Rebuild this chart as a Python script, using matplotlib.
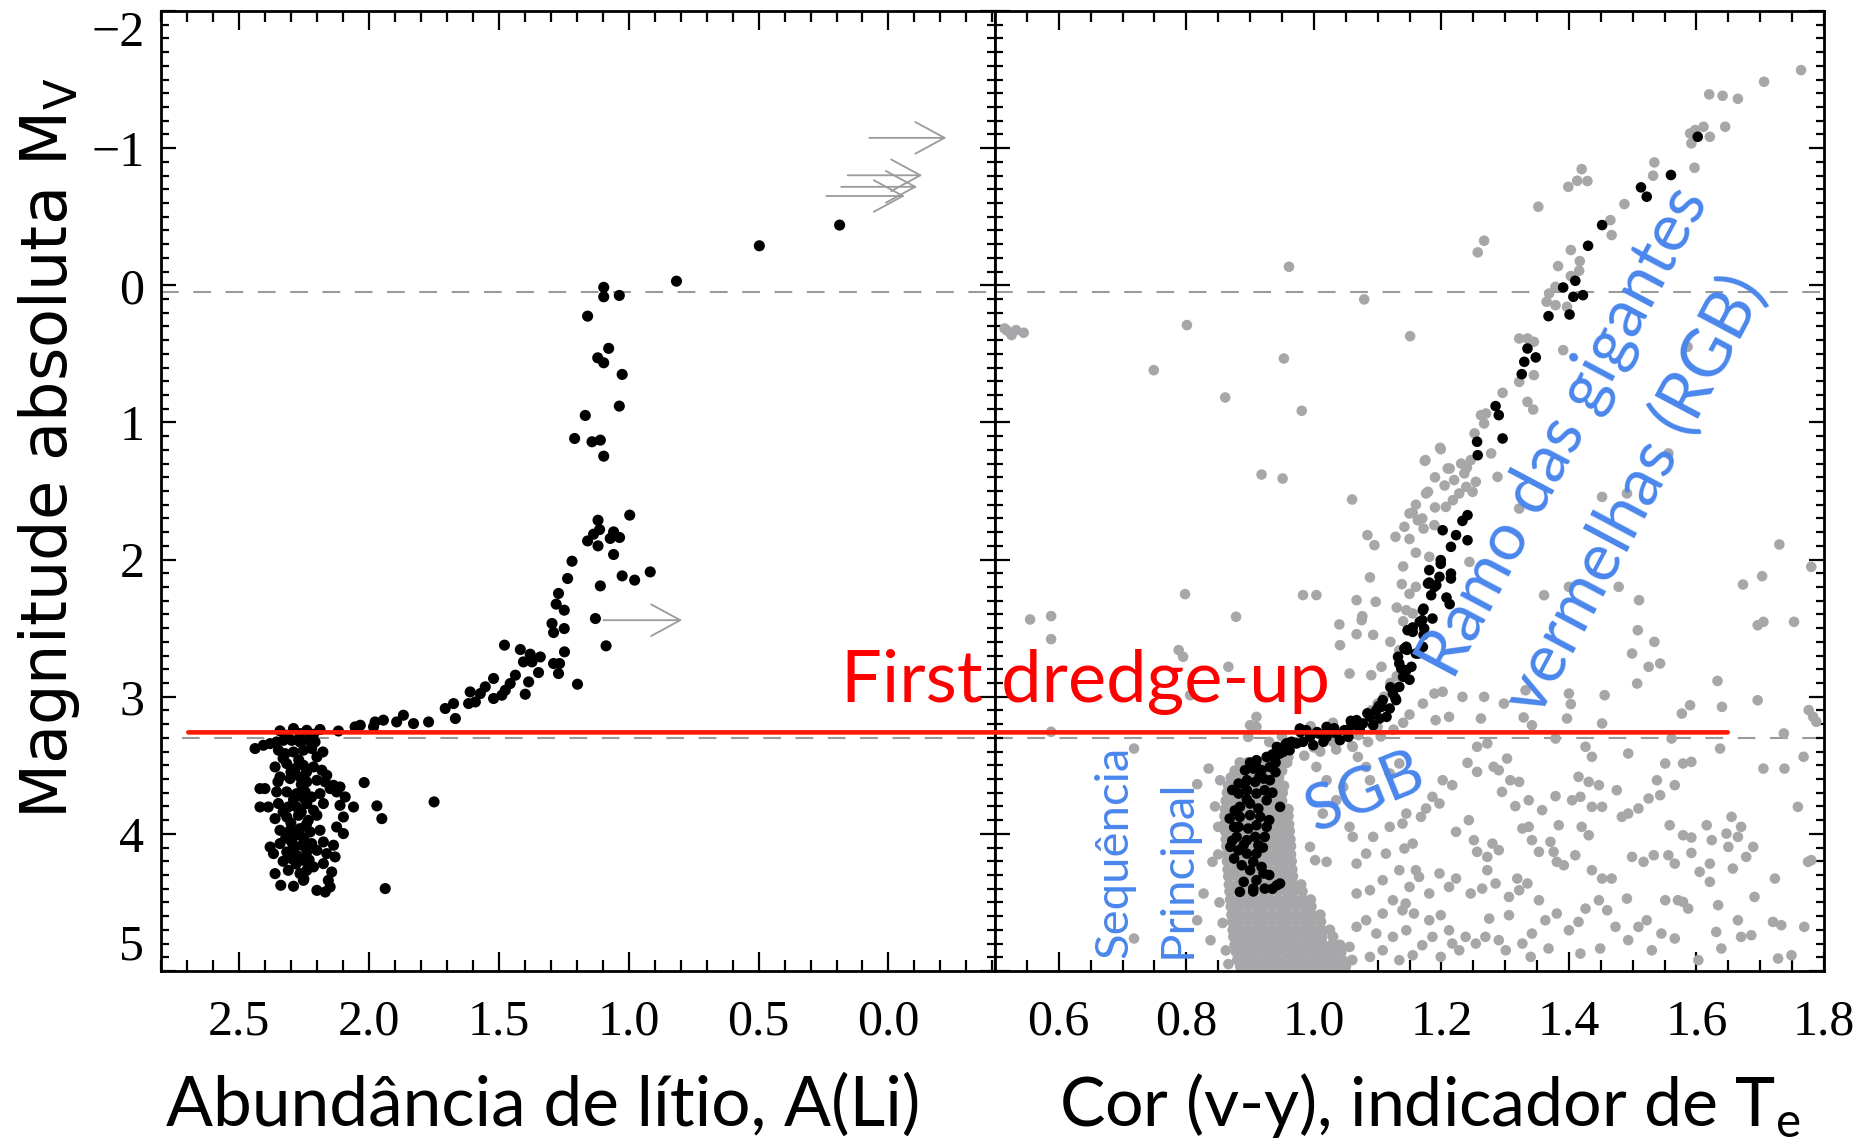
import numpy as np
import matplotlib.pyplot as plt
from matplotlib.patches import ConnectionPatch
from matplotlib.ticker import MultipleLocator

plt.rcParams['font.family'] = ['Liberation Serif', 'DejaVu Serif']
plt.rcParams['axes.linewidth'] = 2.0

# ---------------- left panel: lithium abundance A(Li) vs Mv ----------------
li_giants = [
    (0.816, -0.03), (0.497, -0.288), (0.188, -0.439),
    (1.096, 0.015), (1.096, 0.084), (1.036, 0.074), (1.158, 0.225), (1.077, 0.46),
    (1.119, 0.529), (1.096, 0.565), (1.025, 0.650), (1.036, 0.881), (1.167, 0.949),
    (1.208, 1.117), (1.141, 1.141), (1.109, 1.129), (1.096, 1.246),
    (0.996, 1.676), (1.118, 1.713), (1.112, 1.781), (1.135, 1.815), (1.058, 1.798),
    (1.158, 1.864), (1.071, 1.846), (1.035, 1.839), (1.118, 1.900), (1.058, 1.963),
    (1.218, 2.012), (1.235, 2.138), (1.025, 2.119), (0.977, 2.150), (0.917, 2.090),
    (1.109, 2.192), (1.270, 2.247), (1.279, 2.325), (1.248, 2.369), (1.128, 2.430),
    (1.295, 2.466), (1.289, 2.532), (1.248, 2.503), (1.087, 2.629), (1.247, 2.673),
    (1.478, 2.624), (1.417, 2.656), (1.379, 2.690), (1.340, 2.710), (1.405, 2.746),
    (1.372, 2.746), (1.289, 2.758), (1.266, 2.758), (1.270, 2.831), (1.347, 2.824),
    (1.436, 2.843), (1.385, 2.892), (1.197, 2.909), (1.456, 2.904), (1.475, 2.953),
    (1.398, 2.982), (1.488, 2.989),
]
li_subgiants = [
    (1.520, 2.867), (1.552, 2.928), (1.520, 3.013), (1.571, 2.977), (1.610, 2.965),
    (1.590, 3.038), (1.616, 3.050), (1.674, 3.050), (1.706, 3.086), (1.667, 3.159),
    (1.770, 3.184), (1.828, 3.196), (1.867, 3.135), (1.893, 3.184), (1.944, 3.171),
    (1.976, 3.184), (1.982, 3.220), (2.033, 3.208), (2.053, 3.220), (2.117, 3.250),
    (2.188, 3.239),
]
li_dwarfs = [
    (2.342, 3.249), (2.290, 3.232), (2.239, 3.245), (2.265, 3.269), (2.316, 3.281), (2.213, 3.274),
    (2.438, 3.378), (2.406, 3.354), (2.380, 3.342), (2.355, 3.330), (2.329, 3.318), (2.297, 3.318),
    (2.265, 3.330), (2.233, 3.318), (2.207, 3.330), (2.177, 3.403), (2.348, 3.390), (2.322, 3.415),
    (2.290, 3.403), (2.252, 3.390), (2.220, 3.378), (2.200, 3.439),
    (2.361, 3.512), (2.316, 3.488), (2.284, 3.524), (2.252, 3.500), (2.213, 3.512), (2.181, 3.536),
    (2.162, 3.573),
    (2.342, 3.585), (2.303, 3.597), (2.265, 3.585), (2.239, 3.621), (2.200, 3.609), (2.168, 3.621),
    (2.136, 3.646), (2.111, 3.658), (2.018, 3.626),
    (2.419, 3.670), (2.400, 3.670), (2.355, 3.694), (2.316, 3.694), (2.278, 3.707), (2.245, 3.694),
    (2.220, 3.731), (2.188, 3.707), (2.149, 3.670), (2.124, 3.694), (2.091, 3.731),
    (2.419, 3.804), (2.387, 3.804), (2.348, 3.779), (2.310, 3.804), (2.278, 3.804), (2.239, 3.779),
    (2.213, 3.828), (2.175, 3.779), (2.111, 3.792), (2.059, 3.804), (1.969, 3.796), (1.749, 3.767),
    (2.361, 3.889), (2.316, 3.877), (2.271, 3.865), (2.233, 3.901), (2.200, 3.865), (2.098, 3.877),
    (1.950, 3.889),
    (2.342, 3.974), (2.303, 3.974), (2.265, 3.962), (2.226, 3.986), (2.188, 3.974), (2.124, 3.950),
    (2.098, 3.998),
    (2.380, 4.096), (2.342, 4.071), (2.297, 4.059), (2.258, 4.083), (2.220, 4.071), (2.175, 4.059),
    (2.136, 4.083),
    (2.367, 4.144), (2.316, 4.132), (2.278, 4.156), (2.239, 4.132), (2.200, 4.120), (2.162, 4.144),
    (2.130, 4.168),
    (2.297, 4.181), (2.252, 4.193), (2.213, 4.241), (2.175, 4.217),
    (2.361, 4.290), (2.310, 4.266), (2.265, 4.290), (2.239, 4.266), (2.143, 4.278), (2.156, 4.339),
    (2.339, 4.375), (2.290, 4.382), (2.252, 4.339), (2.200, 4.412), (2.168, 4.424), (2.149, 4.387),
    (1.937, 4.399),
    (2.33, 3.45), (2.27, 3.46), (2.24, 3.55), (2.30, 3.55), (2.35, 3.62), (2.26, 3.64),
    (2.29, 3.75), (2.25, 3.74), (2.33, 3.84), (2.26, 3.84), (2.30, 3.92), (2.24, 3.93),
    (2.28, 4.01), (2.32, 4.03), (2.25, 4.03), (2.29, 4.10), (2.23, 4.19), (2.28, 4.22),
    (2.33, 4.20), (2.25, 4.33),
]
# lower limits on A(Li): (from, to, Mv)
li_limits = [
    (1.097, 0.794, 2.442),
    (0.074, -0.223, -1.075),
    (0.157, -0.130, -0.802),
    (0.182, -0.110, -0.718),
    (0.239, -0.063, -0.651),
]

# ---------------- right panel: colour (v-y) vs Mv ----------------
cmd_black_ms = [
    (0.884, 4.423), (0.905, 4.399), (0.923, 4.399), (0.942, 4.375), (0.947, 4.362), (0.890, 4.350),
    (0.910, 4.338), (0.887, 4.229), (0.900, 4.265), (0.918, 4.241), (0.921, 4.289), (0.905, 4.204),
    (0.869, 4.095), (0.882, 4.120), (0.895, 4.144), (0.910, 4.144), (0.913, 4.083),
    (0.879, 4.022), (0.895, 4.046), (0.908, 4.022), (0.923, 4.022),
    (0.882, 3.949), (0.897, 3.961), (0.910, 3.937), (0.926, 3.949),
    (0.868, 3.888), (0.884, 3.876), (0.900, 3.864), (0.916, 3.876), (0.947, 3.803),
    (0.884, 3.803), (0.900, 3.779), (0.913, 3.815), (0.926, 3.755),
    (0.882, 3.706), (0.895, 3.682), (0.910, 3.706), (0.923, 3.682),
    (0.882, 3.633), (0.895, 3.609), (0.908, 3.621), (0.921, 3.597), (0.931, 3.609),
    (0.892, 3.536), (0.905, 3.524), (0.918, 3.536), (0.931, 3.512),
    (0.910, 3.463), (0.926, 3.439), (0.939, 3.451), (0.947, 3.414),
    (0.875, 3.95), (0.872, 4.05), (0.89, 4.08), (0.92, 4.10), (0.93, 3.90), (0.935, 3.70),
    (0.94, 3.55), (0.93, 4.30), (0.875, 4.18), (0.895, 3.75), (0.915, 3.58), (0.90, 3.48),
    (0.94, 3.48), (0.876, 3.83), (0.872, 3.68), (0.905, 4.42), (0.935, 4.40),
]
cmd_black_sgb = [
    (0.942, 3.366), (0.955, 3.353), (0.962, 3.390), (0.973, 3.341), (0.983, 3.329), (0.978, 3.232),
    (0.994, 3.293), (1.007, 3.268), (1.020, 3.293), (1.035, 3.268), (1.048, 3.244), (1.059, 3.208),
    (1.067, 3.171), (1.077, 3.195), (1.088, 3.147), (1.098, 3.098), (1.114, 3.147), (1.108, 3.025),
    (1.124, 2.977), (1.134, 2.928), (1.140, 2.855), (1.132, 2.709), (1.145, 2.636), (1.147, 2.515),
    (0.952, 3.402), (0.999, 3.353), (1.015, 3.329), (1.041, 3.317), (1.054, 3.293), (1.072, 3.232),
    (1.093, 3.208), (1.103, 3.159), (1.119, 3.086), (1.106, 3.074), (1.129, 3.025), (0.988, 3.244),
    (0.965, 3.329), (1.020, 3.220),
    (1.199, 2.031), (1.181, 2.168), (1.208, 2.277), (1.172, 2.358), (1.155, 2.495), (1.172, 2.549),
    (1.146, 2.658), (1.164, 2.685), (1.137, 2.794), (1.150, 2.876), (1.120, 2.931), (1.128, 3.012),
    (1.102, 3.067), (1.084, 3.121), (1.058, 3.176), (1.032, 3.230), (1.005, 3.258), (0.979, 3.258),
    (0.957, 3.340), (0.935, 3.421), (0.909, 3.503), (0.891, 3.639),
]
cmd_black_rgb = [
    (1.602, -1.083), (1.560, -0.804), (1.513, -0.714), (1.522, -0.646), (1.452, -0.439),
    (1.430, -0.288), (1.391, 0.016), (1.410, -0.033), (1.407, 0.084), (1.422, 0.072),
    (1.368, 0.225), (1.401, 0.213), (1.335, 0.461), (1.330, 0.558), (1.348, 0.526),
    (1.326, 0.648), (1.285, 0.881), (1.290, 0.947),
    (1.256, 1.141), (1.296, 1.117), (1.257, 1.239), (1.241, 1.676), (1.233, 1.718),
    (1.202, 1.786), (1.223, 1.822), (1.241, 1.859), (1.215, 1.907), (1.199, 2.004),
    (1.181, 2.077), (1.215, 2.102), (1.197, 2.126), (1.179, 2.175), (1.189, 2.199),
    (1.215, 2.138), (1.184, 2.260), (1.213, 2.325), (1.171, 2.369), (1.186, 2.430),
    (1.166, 2.454), (1.155, 2.527), (1.173, 2.503), (1.171, 2.637), (1.160, 2.685),
    (1.153, 2.782), (1.142, 2.649), (1.134, 2.758), (1.145, 2.807), (1.192, 2.187),
    (1.170, 2.442),
]
cmd_gray_field = [
    # upper part / giants
    (0.961, -0.135), (1.079, 0.103), (0.801, 0.290), (0.515, 0.315), (0.526, 0.363),
    (0.533, 0.327), (0.545, 0.346), (0.519, 0.330), (1.151, 0.371), (0.749, 0.619),
    (0.953, 0.534), (0.861, 0.818), (0.981, 0.915), (0.918, 1.380), (0.951, 1.409),
    (1.060, 1.562), (1.084, 1.822), (1.095, 1.895), (1.128, 1.834), (1.142, 1.761),
    (1.150, 1.664),
    (1.764, -1.569), (1.706, -1.484), (1.620, -1.392), (1.641, -1.382), (1.665, -1.360),
    (1.611, -1.156), (1.645, -1.156), (1.590, -1.107), (1.598, -1.132), (1.621, -1.083),
    (1.592, -1.035), (1.597, -0.857), (1.534, -0.896), (1.532, -0.799), (1.420, -0.847),
    (1.413, -0.762), (1.429, -0.760), (1.399, -0.718), (1.487, -0.592), (1.352, -0.573),
    (1.465, -0.475), (1.467, -0.366), (1.267, -0.325), (1.257, -0.240), (1.403, -0.257),
    (1.417, -0.176), (1.383, -0.140), (1.416, -0.106), (1.403, -0.067), (1.379, 0.011),
    (1.369, 0.060), (1.365, 0.120), (1.379, 0.145), (1.397, 0.157), (1.322, 0.388),
    (1.335, 0.388), (1.345, 0.412), (1.391, 0.473), (1.586, 0.449), (1.345, 0.655),
    (1.322, 0.704), (1.296, 0.784), (1.335, 0.850), (1.344, 0.906), (1.270, 0.935),
    (1.262, 0.947),
    (1.252, 1.080), (1.267, 1.008), (1.198, 1.185), (1.175, 1.275), (1.213, 1.336),
    (1.231, 1.300), (1.236, 1.372), (1.246, 1.275), (1.288, 1.397), (1.278, 1.226),
    (1.176, 1.518), (1.207, 1.616), (1.218, 1.567), (1.228, 1.518), (1.239, 1.470),
    (1.249, 1.506), (1.254, 1.433), (1.322, 1.628), (1.172, 1.774), (1.244, 2.017),
    (1.181, 1.980), (1.160, 2.199), (1.452, 1.543), (1.491, 1.518), (1.556, 1.226),
    (1.361, 2.260), (1.400, 2.199), (1.478, 2.199), (1.510, 2.296), (1.508, 2.515),
    (1.534, 2.600), (1.499, 2.685), (1.525, 2.782), (1.543, 2.758), (1.507, 2.904),
    (1.456, 2.989), (1.633, 2.885), (1.696, 3.026), (1.640, 3.074), (1.577, 3.123),
    (1.590, 3.062), (1.730, 1.890), (1.673, 2.182), (1.703, 2.121), (1.696, 2.479),
    (1.705, 2.454), (1.753, 2.454), (1.780, 2.053), (1.332, 2.953), (1.400, 2.977),
    (1.233, 3.001), (1.267, 3.001), (1.298, 3.050), (1.189, 2.977), (1.171, 3.050),
    (1.212, 3.147),
    (1.199, 1.195), (1.174, 1.280), (1.179, 1.506), (1.210, 1.336), (1.155, 1.659),
    (1.163, 1.713), (1.189, 1.749), (1.138, 2.179), (1.145, 2.369), (1.155, 2.393),
    (1.134, 2.661),
    (1.19, 1.40), (1.205, 1.46), (1.22, 1.42), (1.24, 1.33), (1.16, 1.60), (1.17, 1.70),
    (1.19, 1.62), (1.15, 1.85), (1.16, 1.95), (1.14, 2.05), (1.15, 2.25), (1.13, 2.35),
    (1.14, 2.45), (1.12, 2.60), (1.13, 2.85), (1.12, 2.90), (1.11, 3.00), (1.10, 3.05),
    (1.09, 3.10), (1.076, 2.413), (1.093, 2.549),
    # near the turn-off, left side
    (0.555, 2.437), (0.588, 2.412), (0.588, 2.580), (0.798, 2.252), (0.878, 2.417),
    (0.983, 2.259), (1.004, 2.259), (1.088, 2.130), (1.067, 2.296), (1.097, 2.308),
    (1.075, 2.442), (1.040, 2.473), (1.067, 2.544), (1.041, 2.624), (0.788, 2.660),
    (0.795, 2.709), (0.866, 2.782), (1.056, 2.831), (1.090, 2.843), (1.106, 2.782),
    (0.806, 2.989), (0.910, 3.147), (0.588, 3.256), (0.900, 3.208),
    (0.718, 3.378), (0.835, 3.524), (0.817, 3.638), (0.853, 3.609), (0.850, 3.949),
    (0.841, 4.204), (0.827, 4.435), (0.838, 4.776), (0.817, 4.630), (0.718, 4.763),
    (0.897, 3.293), (0.910, 3.220),
    (0.845, 3.80), (0.850, 4.15), (0.852, 4.50), (0.857, 4.65), (0.862, 4.85), (0.866, 4.95),
    # sub-giant branch (behind the black stars)
    (0.96, 3.44), (0.985, 3.43), (1.01, 3.40), (1.035, 3.385), (1.06, 3.36), (1.085, 3.33),
    (1.105, 3.29), (1.125, 3.24), (1.14, 3.19), (1.15, 3.13), (0.94, 3.46), (1.00, 3.37),
    (1.03, 3.33), (1.07, 3.28), (1.10, 3.22), (0.995, 3.215), (1.03, 3.19), (0.93, 3.33),
    (0.95, 3.29),
    # between MS and x = 1.15
    (1.061, 3.366), (1.069, 3.439), (1.082, 3.512), (1.088, 3.609), (1.119, 3.560),
    (1.134, 3.487), (1.056, 3.949), (1.061, 4.022), (1.093, 4.022), (1.119, 3.949),
    (1.145, 3.852), (0.994, 4.095), (1.002, 4.192), (1.020, 4.204), (1.067, 4.217),
    (1.082, 4.144), (1.113, 4.144), (1.134, 4.265), (1.108, 4.338), (1.088, 4.411),
    (1.067, 4.435), (1.124, 4.484), (1.139, 4.557), (1.108, 4.581), (1.082, 4.630),
    (1.067, 4.678), (1.098, 4.727), (1.124, 4.751), (1.145, 4.703), (1.108, 4.849),
    (1.134, 4.921), (1.088, 4.897), (1.056, 4.824), (1.004, 3.512), (1.020, 3.609),
    (1.046, 3.658), (1.035, 3.755), (1.014, 3.852),
    # right-hand field
    (1.403, 3.054), (1.397, 3.159), (1.329, 3.151), (1.202, 2.964), (1.191, 3.171),
    (1.262, 3.159), (1.342, 3.208), (1.452, 3.195), (1.737, 3.268), (1.776, 3.098),
    (1.788, 3.183),
    (1.379, 3.305), (1.256, 3.365), (1.272, 3.341), (1.426, 3.365), (1.436, 3.438),
    (1.493, 3.414), (1.561, 3.305), (1.637, 3.378), (1.768, 3.438), (1.705, 3.524),
    (1.738, 3.524), (1.579, 3.487), (1.592, 3.475), (1.551, 3.487), (1.241, 3.482),
    (1.256, 3.548), (1.282, 3.511), (1.303, 3.451), (1.290, 3.536), (1.202, 3.609),
    (1.217, 3.645), (1.308, 3.609), (1.322, 3.621), (1.415, 3.584), (1.431, 3.621),
    (1.447, 3.645), (1.538, 3.609), (1.566, 3.645), (1.475, 3.682), (1.379, 3.725),
    (1.405, 3.755), (1.418, 3.730), (1.295, 3.694), (1.337, 3.755), (1.316, 3.798),
    (1.358, 3.827), (1.186, 3.730), (1.197, 3.779), (1.176, 3.815), (1.436, 3.803),
    (1.452, 3.803), (1.493, 3.852), (1.509, 3.815), (1.525, 3.742), (1.543, 3.718),
    (1.483, 3.876), (1.655, 3.876), (1.670, 3.949), (1.759, 3.803), (1.558, 3.937),
    (1.579, 4.010), (1.592, 4.027), (1.616, 3.937), (1.624, 4.046), (1.647, 3.998),
    (1.665, 4.022), (1.650, 4.095), (1.689, 4.095), (1.592, 4.139), (1.621, 4.217),
    (1.605, 4.277), (1.621, 4.350), (1.657, 4.253), (1.678, 4.168), (1.723, 4.326),
    (1.775, 4.204), (1.691, 4.460), (1.634, 4.520), (1.665, 4.630), (1.720, 4.642),
    (1.733, 4.666), (1.769, 4.678), (1.631, 4.715), (1.670, 4.751), (1.686, 4.739),
    (1.639, 4.836), (1.728, 4.909), (1.749, 4.885), (1.603, 4.921),
    (1.420, 3.949), (1.431, 4.010), (1.384, 3.937), (1.337, 3.949), (1.342, 4.046),
    (1.371, 4.058), (1.327, 3.961), (1.353, 4.131), (1.376, 4.131), (1.381, 4.204),
    (1.410, 4.156), (1.392, 4.229), (1.280, 4.071), (1.290, 4.119), (1.243, 3.900),
    (1.251, 4.046), (1.223, 3.985), (1.256, 4.131), (1.272, 4.168), (1.436, 4.265),
    (1.452, 4.326), (1.467, 4.326), (1.491, 4.472), (1.499, 4.168), (1.517, 4.204),
    (1.533, 4.156), (1.556, 4.156), (1.566, 4.217), (1.571, 4.484), (1.579, 4.496),
    (1.587, 4.545), (1.551, 4.484), (1.509, 4.678), (1.522, 4.630), (1.545, 4.727),
    (1.566, 4.763), (1.530, 4.849), (1.493, 4.775), (1.473, 4.678), (1.449, 4.836),
    (1.460, 4.557), (1.447, 4.484), (1.426, 4.545), (1.415, 4.642), (1.400, 4.703),
    (1.381, 4.581), (1.363, 4.630), (1.353, 4.484), (1.335, 4.362), (1.319, 4.326),
    (1.322, 4.411), (1.306, 4.460), (1.285, 4.362), (1.272, 4.265), (1.264, 4.399),
    (1.246, 4.435), (1.223, 4.326), (1.212, 4.387), (1.197, 4.289), (1.181, 4.435),
    (1.165, 4.314), (1.150, 4.387), (1.144, 4.508), (1.157, 4.581), (1.181, 4.630),
    (1.199, 4.593), (1.212, 4.703), (1.238, 4.751), (1.228, 4.849), (1.254, 4.800),
    (1.269, 4.751), (1.290, 4.775), (1.301, 4.849), (1.327, 4.800), (1.342, 4.727),
    (1.340, 4.897), (1.368, 4.836), (1.418, 4.873), (1.275, 4.618), (1.306, 4.593),
    (1.186, 4.751), (1.170, 4.812), (1.155, 4.885), (1.199, 4.897), (1.217, 4.800),
    (1.142, 4.107), (1.160, 4.265), (1.139, 3.925), (1.155, 4.071), (1.168, 3.876),
    (1.780, 4.192), (1.783, 3.147),
]
# dense lower main sequence: rows of (Mv, colours)
cmd_gray_ms_rows = {
    4.97: [0.885, 0.897, 0.910, 0.922, 0.935, 0.948, 0.960, 0.973, 0.986, 0.998, 1.011, 1.024, 1.037, 1.050],
    4.92: [0.880, 0.893, 0.905, 0.918, 0.931, 0.943, 0.956, 0.969, 0.981, 0.994, 1.007, 1.019, 1.032, 1.045, 1.060],
    4.86: [0.878, 0.890, 0.903, 0.916, 0.928, 0.941, 0.954, 0.966, 0.979, 0.992, 1.004, 1.017, 1.030, 1.043],
    4.81: [0.876, 0.888, 0.901, 0.914, 0.926, 0.939, 0.952, 0.964, 0.977, 0.990, 1.002, 1.015, 1.028, 1.041],
    4.75: [0.874, 0.887, 0.899, 0.912, 0.925, 0.937, 0.950, 0.963, 0.975, 0.988, 1.001, 1.013, 1.030],
    4.70: [0.873, 0.885, 0.898, 0.911, 0.923, 0.936, 0.949, 0.961, 0.974, 0.987, 0.999, 1.012, 1.025],
    4.64: [0.872, 0.884, 0.897, 0.910, 0.922, 0.935, 0.948, 0.960, 0.973, 0.986, 0.998, 1.011],
    4.59: [0.871, 0.883, 0.896, 0.909, 0.921, 0.934, 0.947, 0.959, 0.972, 0.985, 0.997, 1.010],
    4.53: [0.870, 0.882, 0.895, 0.908, 0.920, 0.933, 0.946, 0.958, 0.971, 0.984, 0.996],
    4.48: [0.869, 0.882, 0.894, 0.907, 0.920, 0.932, 0.945, 0.958, 0.970, 0.983, 0.995],
    4.42: [0.868, 0.881, 0.893, 0.906, 0.919, 0.931, 0.944, 0.957, 0.969, 0.982],
    4.37: [0.867, 0.880, 0.893, 0.905, 0.918, 0.931, 0.943, 0.956, 0.968, 0.980],
    4.31: [0.866, 0.879, 0.892, 0.905, 0.917, 0.930, 0.943, 0.955, 0.967],
    4.26: [0.865, 0.878, 0.891, 0.904, 0.917, 0.929, 0.942, 0.954, 0.966],
    4.20: [0.864, 0.877, 0.890, 0.903, 0.916, 0.929, 0.941, 0.953, 0.965],
    4.15: [0.864, 0.877, 0.890, 0.903, 0.915, 0.928, 0.940, 0.952, 0.964],
    4.09: [0.863, 0.876, 0.889, 0.902, 0.915, 0.927, 0.940, 0.952, 0.964],
    4.04: [0.862, 0.875, 0.888, 0.901, 0.914, 0.927, 0.939, 0.951, 0.963],
    3.98: [0.861, 0.874, 0.887, 0.900, 0.913, 0.926, 0.938, 0.950, 0.962],
    3.93: [0.860, 0.873, 0.886, 0.899, 0.912, 0.925, 0.937, 0.949, 0.961],
    3.87: [0.860, 0.873, 0.886, 0.899, 0.912, 0.924, 0.936, 0.948, 0.960],
    3.82: [0.861, 0.874, 0.887, 0.900, 0.913, 0.925, 0.937, 0.949, 0.960],
    3.76: [0.862, 0.875, 0.888, 0.901, 0.914, 0.926, 0.938, 0.950],
    3.70: [0.864, 0.877, 0.890, 0.903, 0.915, 0.927, 0.939, 0.951],
    3.65: [0.866, 0.879, 0.892, 0.904, 0.917, 0.929, 0.941, 0.953],
    3.59: [0.870, 0.883, 0.896, 0.909, 0.921, 0.933, 0.945],
    3.54: [0.876, 0.889, 0.902, 0.914, 0.926, 0.938, 0.950],
    3.48: [0.884, 0.896, 0.909, 0.921, 0.933, 0.946, 0.958],
}

mv_ticks = [-2, -1, 0, 1, 2, 3, 4, 5]
li_ticks = [2.5, 2.0, 1.5, 1.0, 0.5, 0.0]
vy_ticks = [0.6, 0.8, 1.0, 1.2, 1.4, 1.6, 1.8]

mv_lim = (5, -2)
li_lim = (2.8, -0.41)
vy_lim = (0.5, 1.8)
dredge_mv = 3.26
dash_levels = [0.05, 3.30]

black = '#000000'
grey = '#a7a7a9'
blue = '#4a86ec'
red = '#ff1a00'

fig = plt.figure(figsize=(18.62, 11.46), dpi=100)
ax1 = fig.add_axes([161 / 1862, 1 - 971 / 1146, 834 / 1862, 960 / 1146])
ax2 = fig.add_axes([995 / 1862, 1 - 971 / 1146, 829 / 1862, 960 / 1146])


def style_axes(ax, xminor):
    ax.set_ylim(*mv_lim)
    ax.set_yticks(mv_ticks)
    ax.yaxis.set_minor_locator(MultipleLocator(0.1))
    ax.xaxis.set_minor_locator(MultipleLocator(xminor))
    ax.tick_params(which='both', direction='in', top=True, right=True, width=1.6, colors='black')
    ax.tick_params(axis='y', which='major', length=11, pad=12, labelsize=36)
    ax.tick_params(axis='y', which='minor', length=6)
    ax.tick_params(axis='x', which='major', length=14, pad=20, labelsize=36)
    ax.tick_params(axis='x', which='minor', length=8)
    for s in ax.spines.values():
        s.set_linewidth(2.0)


# left panel
style_axes(ax1, 0.1)
ax1.set_xlim(*li_lim)
ax1.set_xticks(li_ticks)
ax1.set_xticklabels(['2.5', '2.0', '1.5', '1.0', '0.5', '0.0'])
ticks = ax1.yaxis.get_major_ticks()
ticks[0].label1.set_verticalalignment('top')
ticks[-1].label1.set_verticalalignment('bottom')

ax1.axhline(dash_levels[0], color='#9a9a9a', lw=1.5, dashes=(8.5, 7), zorder=1)
ax1.plot([2.72, li_lim[1]], [dash_levels[1]] * 2, color='#9a9a9a', lw=1.5, dashes=(8.5, 7), zorder=1)

for grp in (li_giants, li_subgiants, li_dwarfs):
    x, y = zip(*grp)
    ax1.scatter(x, y, s=64, color=black, edgecolors='none', zorder=3)

for x0, x1, y in li_limits:
    ax1.annotate('', xy=(x1, y), xytext=(x0, y),
                 arrowprops=dict(arrowstyle='->, head_length=0.7, head_width=0.38',
                                 color='#9a9a9a', lw=1.3, mutation_scale=30,
                                 shrinkA=0, shrinkB=0), zorder=2)

# right panel
style_axes(ax2, 0.05)
ax2.set_xlim(*vy_lim)
ax2.set_xticks(vy_ticks)
ax2.set_xticklabels(['0.6', '0.8', '1.0', '1.2', '1.4', '1.6', '1.8'])
ax2.tick_params(axis='y', labelleft=False)

for lvl in dash_levels:
    ax2.axhline(lvl, color='#9a9a9a', lw=1.5, dashes=(8.5, 7), zorder=1)

ms_x = [c for mv, row in cmd_gray_ms_rows.items() for c in row]
ms_y = [mv for mv, row in cmd_gray_ms_rows.items() for c in row]
ax2.scatter(ms_x, ms_y, s=62, color=grey, edgecolors='none', zorder=2)
gx, gy = zip(*cmd_gray_field)
ax2.scatter(gx, gy, s=58, color=grey, edgecolors='none', zorder=2)
for grp in (cmd_black_ms, cmd_black_sgb, cmd_black_rgb):
    x, y = zip(*grp)
    ax2.scatter(x, y, s=58, color=black, edgecolors='none', zorder=3)

# first dredge-up line across both panels
con = ConnectionPatch(xyA=(2.695, dredge_mv), coordsA=ax1.transData,
                      xyB=(1.649, dredge_mv), coordsB=ax2.transData,
                      color=red, lw=3.3, zorder=4)
fig.add_artist(con)

# annotations
fig.text(841 / 1862, 1 - 702 / 1146, 'First dredge-up', color='#ff0000',
         fontsize=52, family='Lato', ha='left', va='baseline', zorder=5)
ax2.text(0.708, 4.907, 'Sequência', color=blue, fontsize=34, family='Lato',
         rotation=90, rotation_mode='anchor', ha='left', va='baseline', zorder=5)
ax2.text(0.806, 4.907, 'Principal', color=blue, fontsize=34, family='Lato',
         rotation=90, rotation_mode='anchor', ha='left', va='baseline', zorder=5)
ax2.text(1.081, 3.70, 'SGB', color=blue, fontsize=46, family='Lato',
         rotation=22, rotation_mode='anchor', ha='center', va='center', zorder=5)
ax2.text(1.392, 1.07, 'Ramo das gigantes', color=blue, fontsize=48, family='Lato',
         rotation=62, rotation_mode='anchor', ha='center', va='center', zorder=5)
ax2.text(1.505, 1.53, 'vermelhas (RGB)', color=blue, fontsize=48, family='Lato',
         rotation=62, rotation_mode='anchor', ha='center', va='center', zorder=5)

# axis labels
fig.text(67 / 1862, 1 - 819 / 1146, r'Magnitude absoluta M$_\mathregular{V}$',
         fontsize=46, family='DejaVu Sans', rotation=90, rotation_mode='anchor',
         ha='left', va='baseline')
fig.text(166 / 1862, 1 - 1126 / 1146, 'Abundância de lítio, A(Li)',
         fontsize=50, family='Lato', ha='left', va='baseline')
fig.text(1059 / 1862, 1 - 1126 / 1146, r'Cor (v-y), indicador de T$_\mathregular{e}$',
         fontsize=49, family='Lato', ha='left', va='baseline')

fig.savefig('out.png', dpi=100, facecolor='white')
